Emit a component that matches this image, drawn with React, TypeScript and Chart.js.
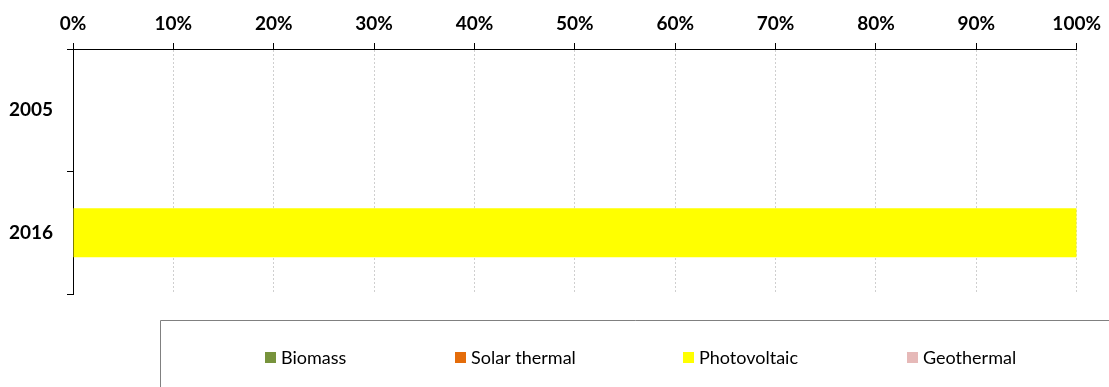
import React, { useEffect, useRef } from "react";
import { Chart, registerables } from "chart.js";

Chart.register(...registerables);

// Share of each renewable source per year (%)
const categories = ["2005", "2016"];
const seriesNames = ["Biomass", "Solar thermal", "Photovoltaic", "Geothermal"];
const biomass = [0, 0];
const solarThermal = [0, 0];
const photovoltaic = [0, 100];
const geothermal = [0, 0];
const seriesColors = ["#77933C", "#E46C0A", "#FFFF00", "#E6B9B8"];
const tickValues = [0, 10, 20, 30, 40, 50, 60, 70, 80, 90, 100];

const FONT = "Lato, 'Open Sans', sans-serif";

// Framed legend drawn below the plot area: entries evenly spaced, group centred
const boxedLegend = {
  id: "boxedLegend",
  afterDraw(chart: any) {
    const ctx = chart.ctx as CanvasRenderingContext2D;
    const frameLeft = 160.5;
    const frameTop = 320.5;
    ctx.save();
    ctx.strokeStyle = "#808080";
    ctx.lineWidth = 1;
    ctx.beginPath();
    ctx.moveTo(frameLeft, chart.height + 2);
    ctx.lineTo(frameLeft, frameTop);
    ctx.lineTo(chart.width + 2, frameTop);
    ctx.stroke();

    ctx.font = `18px ${FONT}`;
    ctx.textBaseline = "middle";
    ctx.textAlign = "left";
    const box = 11;
    const gap = 5;
    const itemGap = 108;
    const rowY = 358;
    const groupCenter = 640.5;
    const items = chart.data.datasets.map((ds: any) => ({
      label: ds.label as string,
      color: ds.backgroundColor as string,
      width: box + gap + ctx.measureText(ds.label).width,
    }));
    const total =
      items.reduce((s: number, it: any) => s + it.width, 0) + itemGap * (items.length - 1);
    let x = groupCenter - total / 2;
    items.forEach((it: any) => {
      const x0 = Math.round(x);
      ctx.fillStyle = it.color;
      ctx.fillRect(x0, rowY - 6, box, box);
      ctx.fillStyle = "#000000";
      ctx.fillText(it.label, x0 + box + gap, rowY);
      x += it.width + itemGap;
    });
    ctx.restore();
  },
};

export default function App() {
  const canvasRef = useRef<HTMLCanvasElement | null>(null);

  useEffect(() => {
    const canvas = canvasRef.current;
    if (!canvas) return;
    const values = [biomass, solarThermal, photovoltaic, geothermal];
    const chart = new Chart(canvas, {
      type: "bar",
      data: {
        labels: categories,
        datasets: seriesNames.map((name, i) => ({
          label: name,
          data: values[i],
          backgroundColor: seriesColors[i],
          borderWidth: 0,
          categoryPercentage: 1,
          barPercentage: 0.4,
        })),
      },
      options: {
        indexAxis: "y",
        animation: false,
        responsive: false,
        devicePixelRatio: 1,
        layout: { padding: { left: 0, top: 0, right: 32, bottom: 93 } },
        plugins: {
          legend: { display: false },
          tooltip: { enabled: false },
        },
        scales: {
          x: {
            position: "top",
            stacked: true,
            min: 0,
            max: 100,
            afterBuildTicks(scale: any) {
              scale.ticks = tickValues.map((v) => ({ value: v }));
            },
            afterFit(scale: any) {
              scale.height = 49;
            },
            ticks: {
              callback: (v: any) => `${v}%`,
              color: "#000000",
              font: { family: FONT, size: 19, weight: "bold" },
              padding: 8,
              maxRotation: 0,
            },
            grid: {
              color: "#CFCFCF",
              lineWidth: 1,
              drawTicks: true,
              tickLength: 6,
              tickColor: "#000000",
              tickBorderDash: [],
            },
            border: { display: true, color: "#000000", width: 1, dash: [2, 2] },
          },
          y: {
            stacked: true,
            afterFit(scale: any) {
              scale.width = 73;
            },
            ticks: {
              color: "#000000",
              font: { family: FONT, size: 19, weight: "bold" },
              padding: 14,
            },
            grid: {
              offset: true,
              drawOnChartArea: false,
              drawTicks: true,
              tickLength: 6,
              tickColor: "#000000",
            },
            border: { display: true, color: "#000000", width: 1 },
          },
        },
      },
      plugins: [boxedLegend],
    });
    return () => chart.destroy();
  }, []);

  return (
    <div style={{ position: "fixed", left: 0, top: 0, width: 1109, height: 387, background: "#ffffff" }}>
      <canvas ref={canvasRef} width={1109} height={387} style={{ display: "block" }} />
    </div>
  );
}
